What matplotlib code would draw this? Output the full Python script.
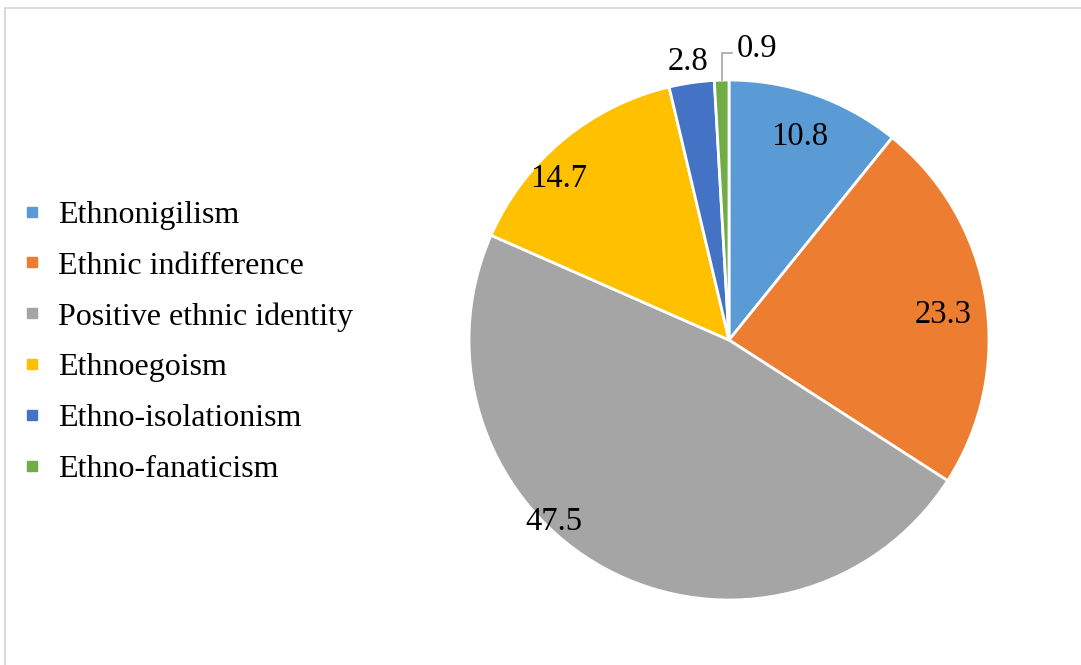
import matplotlib.pyplot as plt
from matplotlib.lines import Line2D
import numpy as np

plt.rcParams['font.family'] = ['Liberation Serif', 'DejaVu Serif']

# Datos del gráfico
categorias = ['Ethnonigilism', 'Ethnic indifference', 'Positive ethnic identity',
              'Ethnoegoism', 'Ethno-isolationism', 'Ethno-fanaticism']
valores = [10.8, 23.3, 47.5, 14.7, 2.8, 0.9]
colores = ['#5B9BD5', '#ED7D31', '#A5A5A5', '#FFC000', '#4472C4', '#70AD47']

# posicion de cada etiqueta (radio relativo, angulo en grados)
pos_etiquetas = [(0.84, 71), (0.83, 7.7), (0.96, -134.5), (0.91, 136), (1.095, 98.3), (1.14, 84.5)]

fig = plt.figure(figsize=(10.81, 6.65), dpi=100)
ax = fig.add_axes([0, 0, 1, 1])

R = 260.0  # radio en pixeles
cx, cy = 729.0, 340.0

wedges, _ = ax.pie(valores, colors=colores, startangle=90, counterclock=False,
                   radius=1.0, wedgeprops=dict(edgecolor='white', linewidth=2))

ax.set_xlim(-cx / R, (1081 - cx) / R)
ax.set_ylim(-(665 - cy) / R, cy / R)
ax.set_aspect('auto')
ax.axis('off')

# Etiquetas de datos
for v, (r, ang) in zip(valores, pos_etiquetas):
    t = np.deg2rad(ang)
    ax.text(r * np.cos(t), r * np.sin(t), f'{v}', ha='center', va='center_baseline',
            fontsize=23.5, color='black')

# linea guia de la etiqueta 0.9 (ultima porcion, justo a la izquierda de las 12)
a0 = np.deg2rad(90 + valores[-1] * 3.6 / 2)
x0 = np.cos(a0)
ax.plot([x0, x0, 0.012], [np.sin(a0), 1.105, 1.105], color='#A6A6A6', lw=1.2,
        solid_joinstyle='miter')

# Leyenda
handles = [Line2D([], [], marker='s', linestyle='none', markersize=6.5,
                  markerfacecolor=c, markeredgecolor=c) for c in colores]
fig.legend(handles, categorias, loc='center left', bbox_to_anchor=(0.0105, 0.4855),
           frameon=False, fontsize=23, handlelength=0.5, handletextpad=0.56,
           labelspacing=0.67, borderaxespad=0)

# Borde del area del grafico
fig.add_artist(Line2D([5 / 1081, 1], [1 - 8 / 665, 1 - 8 / 665], color='#D9D9D9', lw=1.2))
fig.add_artist(Line2D([5 / 1081, 5 / 1081], [0, 1 - 8 / 665], color='#D9D9D9', lw=1.5))

fig.savefig('out.png', dpi=100)
